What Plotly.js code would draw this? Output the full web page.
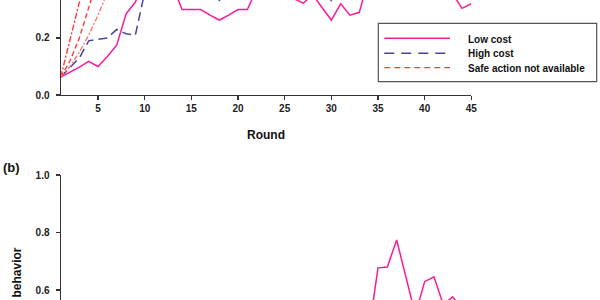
<!DOCTYPE html>
<html>
<head>
<meta charset="utf-8">
<script src="https://cdn.plot.ly/plotly-3.0.1.min.js"></script>
<style>html,body{margin:0;padding:0;background:#fff;}#chart{width:600px;height:300px;}</style>
</head>
<body>
<div id="chart"></div>
<script>
// ---- data ----
const rounds = [1,2,3,4,5,6,7,8,9,10,11,12,13,14,15,16,17,18,19,20,21,22,23,24,25,26,27,28,29,30,31,32,33,34,35,36,37,38,39,40,41,42,43,44,45];

// panel (a): proportion over rounds (only values below ~0.33 are inside the visible crop)
const lowCostA = [0.063,0.080,0.098,0.118,0.100,0.135,0.175,0.284,0.326,0.400,0.450,0.420,0.385,0.300,0.300,0.300,0.280,0.263,0.280,0.300,0.300,0.370,0.400,0.380,0.360,0.338,0.322,0.352,0.307,0.263,0.320,0.280,0.290,0.410,0.400,0.420,0.450,0.400,0.380,0.410,0.390,0.370,0.355,0.304,0.320];
const highCostA = [0.063,0.098,0.130,0.190,0.195,0.200,0.230,0.215,0.210,0.360,0.400,0.420,0.410,0.400,0.390,0.380,0.370,0.332,0.370,0.390,0.400,0.410,0.420,0.400,0.390,0.380,0.390,0.380,0.370,0.331,0.360,0.380,0.400,0.410,0.420,0.410,0.400,0.410,0.420,0.430,0.420,0.410,0.400,0.410,0.420];

const safeRounds = [1,2,3,4,5,6];
const safeNA1 = [0.063,0.190,0.325,0.460,0.560,0.640];
const safeNA2 = [0.063,0.120,0.200,0.310,0.430,0.520];
const safeNA3 = [0.063,0.100,0.150,0.210,0.280,0.360];

// panel (b): only the part above ~0.56 is inside the visible crop
const roundsB = [33,34,35,36,37,38,39,40,41,42,43,44,45];
const lowCostB = [0.400,0.450,0.677,0.680,0.774,0.645,0.515,0.629,0.646,0.549,0.576,0.535,0.480];

const xTicks = [5,10,15,20,25,30,35,40,45];
const yTicksA = [0.0,0.2];
const yTicksB = [0.6,0.8,1.0];

const legendNames = ['Low cost','High cost','Safe action not available'];

// ---- styles ----
const PINK = '#ff1a95';
const BLUE = '#4444a6';
const RED = '#ff3b3b';
const AX = '#333333';
const FONT = 'Liberation Sans, Arial, sans-serif';
const tickFont = {family: FONT, size: 10, color: '#222', weight: 'bold'};

function px(x){ return x/600; }
function py(y){ return 1 - y/300; }

const traces = [
  {x: rounds, y: lowCostA, name: legendNames[0], type: 'scatter', mode: 'lines',
   line: {color: PINK, width: 1.5}, xaxis: 'x', yaxis: 'y'},
  {x: rounds, y: highCostA, name: legendNames[1], type: 'scatter', mode: 'lines',
   line: {color: BLUE, width: 1.5, dash: '9px,5px'}, xaxis: 'x', yaxis: 'y'},
  {x: safeRounds, y: safeNA1, name: legendNames[2], type: 'scatter', mode: 'lines',
   line: {color: RED, width: 1.4, dash: '6px,2px,2px,2px'}, xaxis: 'x', yaxis: 'y'},
  {x: safeRounds, y: safeNA2, name: legendNames[2], type: 'scatter', mode: 'lines',
   line: {color: RED, width: 1.4, dash: '5px,3px'}, xaxis: 'x', yaxis: 'y'},
  {x: safeRounds, y: safeNA3, name: legendNames[2], type: 'scatter', mode: 'lines',
   line: {color: '#ff6a6a', width: 1.3, dash: '5px,2px,2px,2px'}, xaxis: 'x', yaxis: 'y'},
  {x: roundsB, y: lowCostB, name: legendNames[0], type: 'scatter', mode: 'lines',
   line: {color: PINK, width: 1.5}, xaxis: 'x2', yaxis: 'y2'}
];

const xDomain = [px(60.7), px(471.3)];

const layout = {
  width: 600, height: 300,
  margin: {l: 0, r: 0, t: 0, b: 0},
  paper_bgcolor: '#ffffff', plot_bgcolor: '#ffffff',
  showlegend: false,
  font: {family: FONT, color: '#222'},
  xaxis: {domain: xDomain, range: [1, 45], anchor: 'y', showline: true, linecolor: AX, linewidth: 1.2,
          ticks: 'outside', ticklen: 4, tickcolor: AX, tickwidth: 1.2, tickvals: xTicks,
          tickfont: tickFont, showgrid: false, zeroline: false, fixedrange: true},
  yaxis: {domain: [py(95), 1], range: [0, 0.3333], anchor: 'x', showline: true, linecolor: AX, linewidth: 1.2,
          ticks: 'outside', ticklen: 4, tickcolor: AX, tickwidth: 1.2, tickvals: yTicksA, tickformat: '.1f',
          ticklabelstandoff: 4, tickfont: tickFont, showgrid: false, zeroline: false, fixedrange: true},
  xaxis2: {domain: xDomain, range: [1, 45], anchor: 'y2', visible: false, fixedrange: true},
  yaxis2: {domain: [0, py(175)], range: [0.5652, 1.0], anchor: 'x2', showline: true, linecolor: AX, linewidth: 1.2,
          ticks: 'outside', ticklen: 4, tickcolor: AX, tickwidth: 1.2, tickvals: yTicksB, tickformat: '.1f',
          ticklabelstandoff: 4, tickfont: tickFont, showgrid: false, zeroline: false, fixedrange: true},
  shapes: [
    {type: 'rect', xref: 'paper', yref: 'paper', x0: px(378.3), x1: px(596.7), y0: py(23.3), y1: py(81.7),
     line: {color: '#555', width: 1.2}, fillcolor: 'rgba(0,0,0,0)'},
    {type: 'line', xref: 'paper', yref: 'paper', x0: px(384.3), x1: px(450), y0: py(38.3), y1: py(38.3),
     line: {color: PINK, width: 1.5}},
    {type: 'line', xref: 'paper', yref: 'paper', x0: px(384.3), x1: px(450), y0: py(53.3), y1: py(53.3),
     line: {color: BLUE, width: 1.5, dash: '10px,7px'}},
    {type: 'line', xref: 'paper', yref: 'paper', x0: px(384.3), x1: px(450), y0: py(67.7), y1: py(67.7),
     line: {color: RED, width: 1.3, dash: '6px,4px'}}
  ],
  annotations: [
    {text: legendNames[0], xref: 'paper', yref: 'paper', x: px(465.7), y: py(39), xanchor: 'left', yanchor: 'middle',
     showarrow: false, font: {family: FONT, size: 10, color: '#111', weight: 'bold'}},
    {text: legendNames[1], xref: 'paper', yref: 'paper', x: px(465.7), y: py(53.5), xanchor: 'left', yanchor: 'middle',
     showarrow: false, font: {family: FONT, size: 10, color: '#111', weight: 'bold'}},
    {text: legendNames[2], xref: 'paper', yref: 'paper', x: px(465.7), y: py(68), xanchor: 'left', yanchor: 'middle',
     showarrow: false, font: {family: FONT, size: 10, color: '#111', weight: 'bold'}},
    {text: 'Round', xref: 'paper', yref: 'paper', x: px(266), y: py(135), xanchor: 'center', yanchor: 'middle',
     showarrow: false, font: {family: FONT, size: 12, color: '#111', weight: 'bold'}},
    {text: '(b)', xref: 'paper', yref: 'paper', x: px(11.5), y: py(167), xanchor: 'center', yanchor: 'middle',
     showarrow: false, font: {family: FONT, size: 13, color: '#111', weight: 'bold'}},
    {text: 'behavior', xref: 'paper', yref: 'paper', x: px(16.5), y: py(246), xanchor: 'center', yanchor: 'top',
     textangle: -90, showarrow: false, font: {family: FONT, size: 12, color: '#111', weight: 'bold'}}
  ]
};

Plotly.newPlot('chart', traces, layout, {displayModeBar: false, staticPlot: true});
</script>
</body>
</html>
